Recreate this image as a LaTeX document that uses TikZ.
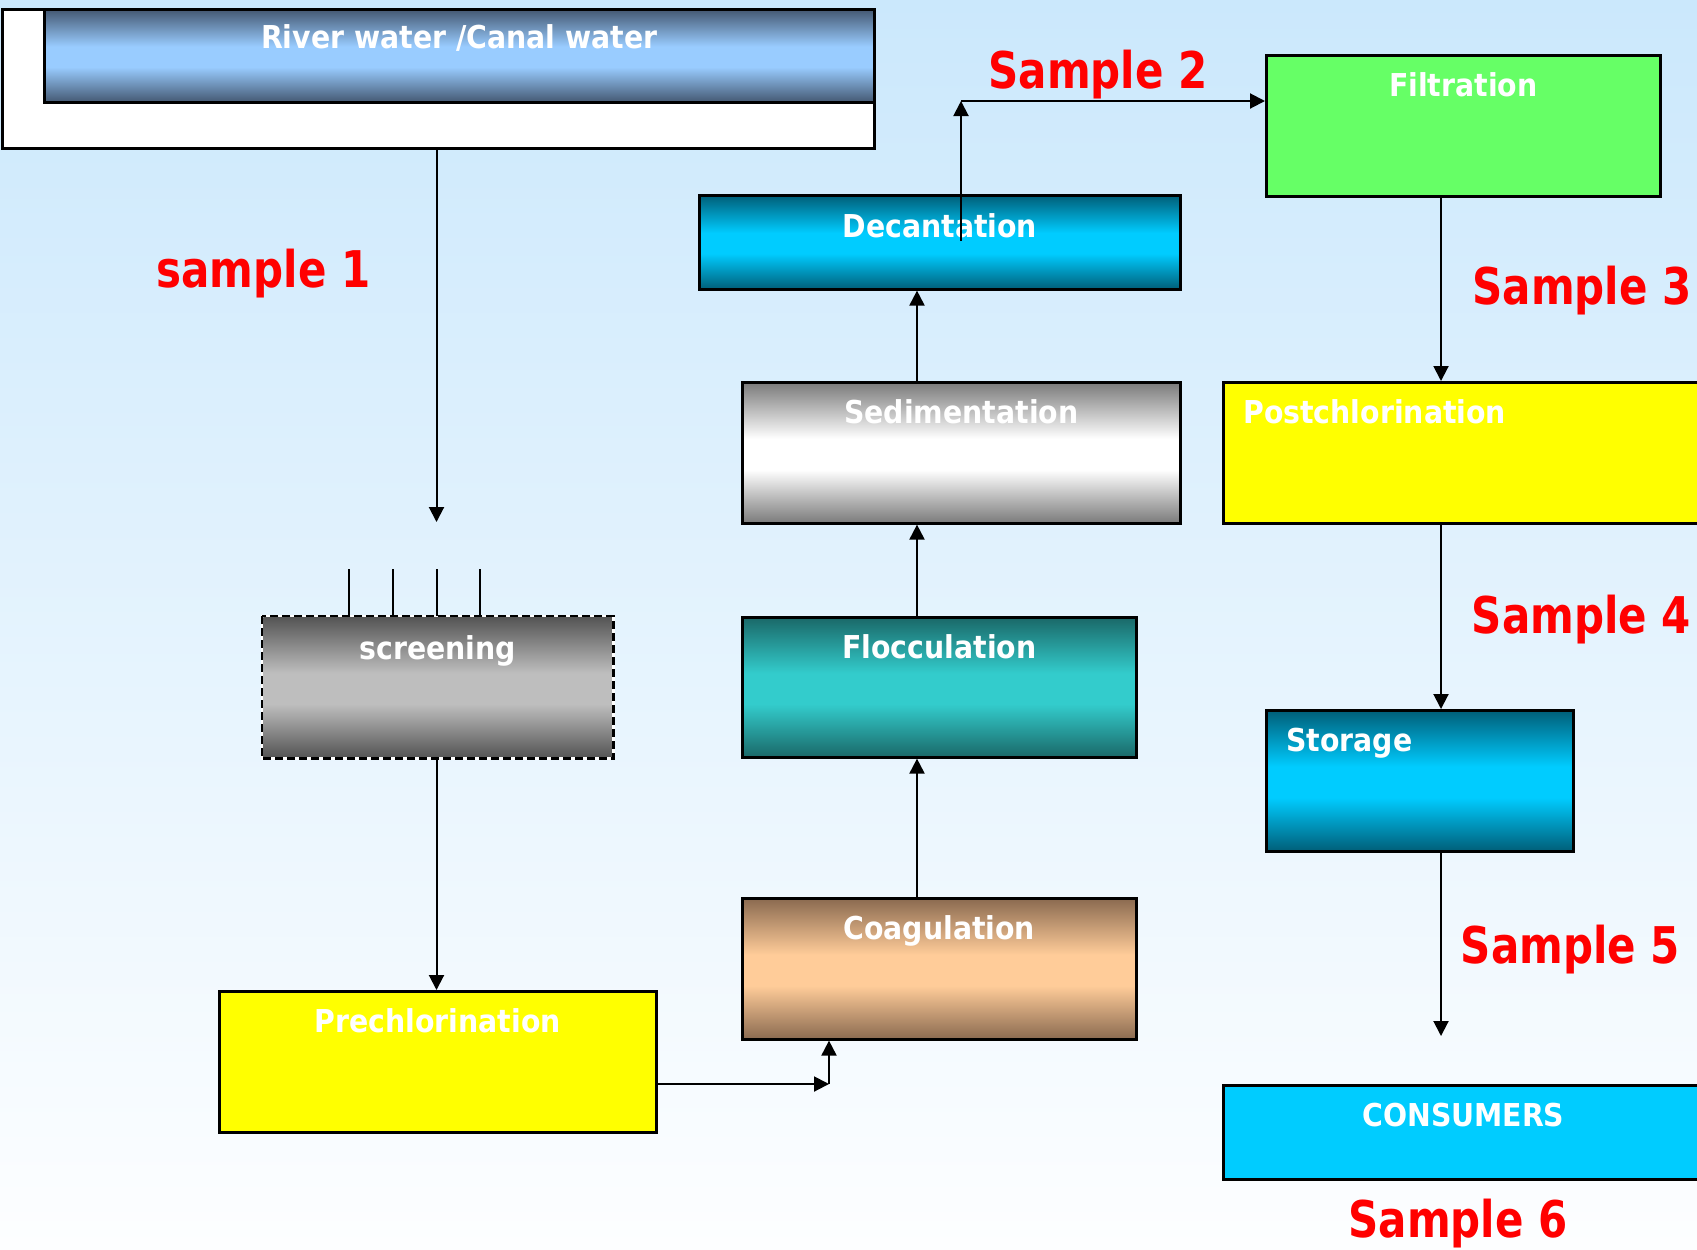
\documentclass[tikz,border=0pt]{standalone}
\usepackage{fontspec}
\setmainfont{DejaVu Sans}
\newfontfamily\boxfont{DejaVu Sans}[FakeStretch=0.9]
\newfontfamily\tagfont{DejaVu Sans}[FakeStretch=0.83]
\usetikzlibrary{arrows.meta}

\definecolor{bgtop}{RGB}{203,232,252}
\definecolor{bgbottom}{RGB}{253,254,255}
\definecolor{slate}{RGB}{68,88,114}
\definecolor{skyblue}{RGB}{153,204,255}
\definecolor{greydark}{RGB}{85,85,85}
\definecolor{greylight}{RGB}{190,190,190}
\definecolor{brown}{RGB}{138,106,80}
\definecolor{peach}{RGB}{255,204,153}
\definecolor{tealdark}{RGB}{26,104,104}
\definecolor{turquoise}{RGB}{51,204,204}
\definecolor{silver}{RGB}{122,122,122}
\definecolor{petrol}{RGB}{0,94,120}
\definecolor{cyanbright}{RGB}{0,204,255}
\definecolor{lime}{RGB}{102,255,102}
\definecolor{pureyellow}{RGB}{255,255,0}
\definecolor{edgecol}{RGB}{0,0,0}
\definecolor{midcol}{RGB}{255,255,255}

% dark edges, light band in the middle (the path spans 25bp..75bp)
\pgfdeclareverticalshading[edgecol,midcol]{band}{100bp}{%
  color(0bp)=(edgecol); color(25bp)=(edgecol); color(44bp)=(midcol);
  color(55bp)=(midcol); color(75bp)=(edgecol); color(100bp)=(edgecol)}

\begin{document}
\begin{tikzpicture}[x=0.5pt,y=-0.5pt,
  stage/.style={draw=black, line width=1.3pt, inner sep=0pt, anchor=north west,
    text=white, text height=20.5pt, text depth=50pt,
    font=\boxfont\bfseries\fontsize{15.75pt}{18pt}\selectfont},
  leftstage/.style={stage, align=left, inner xsep=10pt},
  bandfill/.style 2 args={/utils/exec={\colorlet{edgecol}{#1}\colorlet{midcol}{#2}},
    shading=band},
  tag/.style={text=red, inner sep=0pt, anchor=base,
    font=\tagfont\bfseries\fontsize{25.3pt}{30pt}\selectfont},
  flow/.style={line width=1pt, -{Triangle[length=7.5pt,width=7.5pt]}},
  bar/.style={line width=1pt}]

\useasboundingbox (0,0) rectangle (1697,1249);
\clip (0,0) rectangle (1697,1249);

% background
\fill[top color=bgtop, bottom color=bgbottom] (0,0) rectangle (1697,1249);

% source with its offset frame
\node[draw=black, line width=1.3pt, fill=white, inner sep=0pt, anchor=north west,
  minimum width=436pt, minimum height=69.5pt] (source) at (1,8) {};
\node[stage, minimum width=415pt, text height=19.75pt, text depth=26.75pt,
  bandfill={slate}{skyblue}] (river) at (43,8)
  {River water /Canal water};

% left column
\node[stage, draw=none, minimum width=174.5pt, text height=21pt, text depth=49pt,
  bandfill={greydark}{greylight}] (screen) at (262,616)
  {screening};
\draw[white, line width=1.3pt] (screen.north west) rectangle (screen.south east);
\draw[black, line width=1.3pt, dash pattern=on 4pt off 2pt]
  (screen.north west) rectangle (screen.south east);

\node[stage, minimum width=218.5pt, fill=pureyellow] (prechlor) at (218,990) {Prechlorination};

% middle column
\node[stage, minimum width=197pt, bandfill={brown}{peach}]
  (coag) at (741,897) {Coagulation};
\node[stage, minimum width=197pt, text depth=49.5pt, bandfill={tealdark}{turquoise}]
  (floc) at (741,616) {Flocculation};
\node[stage, minimum width=219pt, bandfill={silver}{white}]
  (sed) at (741,381) {Sedimentation};
\node[stage, minimum width=240.5pt, text height=21pt, text depth=26pt,
  bandfill={petrol}{cyanbright}]
  (decant) at (698,194) {Decantation};

% right column
\node[stage, minimum width=197pt, fill=lime] (filt) at (1265,54) {Filtration};
\node[leftstage, text width=220pt, fill=pureyellow] (post) at (1222,381) {Postchlorination};
\node[leftstage, text width=133.5pt, bandfill={petrol}{cyanbright}]
  (store) at (1265,709) {Storage};
\node[stage, minimum width=240pt, text depth=26.5pt, fill=cyanbright]
  (cons) at (1222,1084) {CONSUMERS};

% reference points for the connectors
\coordinate (screenin) at (436.5,522);
\coordinate (midx) at (917,0);
\coordinate (rightx) at (1441,0);
\coordinate (join) at (829,1084);
\coordinate (dstart) at (961,241);
\coordinate (dtop) at (961,101);
\coordinate (storeout) at (1441,1036);

% bars of the screen
\foreach \bx [count=\i] in {348.5,393,436.5,480} {
  \coordinate (bar\i) at (\bx,569);
  \draw[bar] (bar\i) -- (bar\i |- screen.north);
}

% connectors
\draw[flow] (source.south -| screenin) -- (screenin);
\draw[flow] (screen.south -| screenin) -- (prechlor.north -| screenin);
\draw[flow] (prechlor.east |- join) -- (join);
\draw[flow] (join) -- (join |- coag.south);
\draw[flow] (coag.north -| midx) -- (floc.south -| midx);
\draw[flow] (floc.north -| midx) -- (sed.south -| midx);
\draw[flow] (sed.north -| midx) -- (decant.south -| midx);
\draw[flow] (dstart) -- (dtop);
\draw[flow] (dtop) -- (dtop -| filt.west);
\draw[flow] (filt.south -| rightx) -- (post.north -| rightx);
\draw[flow] (post.south -| rightx) -- (store.north -| rightx);
\draw[flow] (store.south -| rightx) -- (storeout);

% sampling points
\node[tag] (s1) at (263.5,287) {sample 1};
\node[tag] (s2) at (1098,88) {Sample 2};
\node[tag, anchor=base west] (s3) at (1472,304) {Sample 3};
\node[tag] (s4) at (1581.5,633) {Sample 4};
\node[tag] (s5) at (1570.5,963) {Sample 5};
\node[tag] (s6) at (1458,1237) {Sample 6};
\end{tikzpicture}
\end{document}
